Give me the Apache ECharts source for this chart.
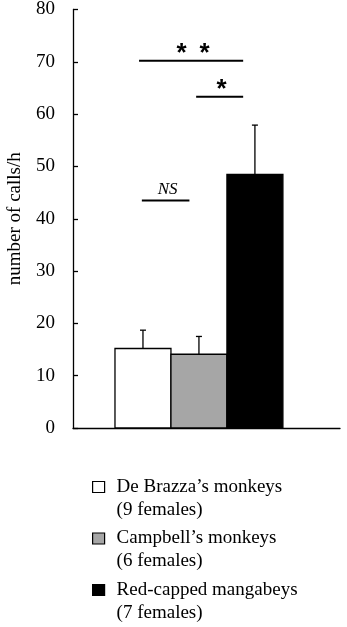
<!DOCTYPE html>
<html>
<head>
<meta charset="utf-8">
<script src="https://cdn.jsdelivr.net/npm/echarts@6/dist/echarts.min.js"></script>
<style>
  html, body { margin: 0; padding: 0; background: #fff; }
  #chart { width: 347px; height: 627px; }
</style>
</head>
<body>
<div id="chart"></div>
<script>
// groups, bar heights and upper error (SE)
const species = ["De Brazza\u2019s monkeys", "Campbell\u2019s monkeys", "Red-capped mangabeys"];
const females = [9, 6, 7];
const positions = [1, 2, 3];
const means = [15.2, 14.1, 48.5];
const errors = [3.5, 3.4, 9.4];
const barColors = ["#ffffff", "#a6a6a6", "#000000"];

// y axis ticks
const yMin = 0;
const yMax = 80;
const yStep = 10;

// significance brackets: start, end, level, label
const sigStart = [0.93, 1.95, 0.98];
const sigEnd = [2.79, 2.79, 1.83];
const sigLevel = [70.2, 63.3, 43.5];
const sigLabel = ["*\u2002*", "*", "NS"];

const chart = echarts.init(document.getElementById("chart"));

function renderBar(params, api) {
  const x = api.value(0);
  const v = api.value(1);
  const e = api.value(2);
  const p0 = api.coord([x - 0.5, v]);
  const p1 = api.coord([x + 0.5, 0]);
  const top = api.coord([x, v + e]);
  const cx = (p0[0] + p1[0]) / 2;
  return {
    type: "group",
    children: [
      {
        type: "rect",
        shape: { x: p0[0], y: p0[1], width: p1[0] - p0[0], height: p1[1] - p0[1] },
        style: { fill: api.visual("color"), stroke: "#000", lineWidth: 1.3 }
      },
      {
        type: "line",
        shape: { x1: cx, y1: p0[1], x2: cx, y2: top[1] },
        style: { stroke: "#000", lineWidth: 1.3 }
      },
      {
        type: "line",
        shape: { x1: cx - 3, y1: top[1], x2: cx + 3, y2: top[1] },
        style: { stroke: "#000", lineWidth: 1.3 }
      }
    ]
  };
}

function renderSig(params, api) {
  const i = params.dataIndex;
  const a = api.coord([api.value(0), api.value(2)]);
  const b = api.coord([api.value(1), api.value(2)]);
  const isNS = sigLabel[i] === "NS";
  return {
    type: "group",
    children: [
      {
        type: "line",
        shape: { x1: a[0], y1: a[1], x2: b[0], y2: b[1] },
        style: { stroke: "#000", lineWidth: 2 }
      },
      {
        type: "text",
        style: {
          x: (a[0] + b[0]) / 2 + 2,
          y: isNS ? a[1] - 2 : a[1] - 7,
          text: sigLabel[i],
          align: "center",
          verticalAlign: isNS ? "bottom" : "middle",
          fill: "#000",
          font: isNS ? "italic 17px 'Liberation Serif'" : "bold 26px 'Liberation Sans'"
        }
      }
    ]
  };
}

const barSeries = species.map((name, i) => ({
  name: name,
  type: "custom",
  renderItem: renderBar,
  itemStyle: { color: barColors[i] },
  data: [[positions[i], means[i], errors[i]]],
  encode: { x: 0, y: 1 },
  z: 2
}));

const option = {
  backgroundColor: "#fff",
  animation: false,
  grid: { left: 73, right: 7, top: 9.5, bottom: 199, outerBoundsMode: "none", containLabel: false },
  xAxis: {
    type: "value",
    min: -0.25,
    max: 4.52,
    axisLine: { show: true, onZero: false, lineStyle: { color: "#000", width: 1.3 } },
    axisTick: { show: false },
    axisLabel: { show: false },
    splitLine: { show: false }
  },
  yAxis: {
    type: "value",
    min: yMin,
    max: yMax,
    interval: yStep,
    name: "number of calls/h",
    nameLocation: "middle",
    nameGap: 48,
    nameTextStyle: { fontFamily: "Liberation Serif", fontSize: 19, color: "#000" },
    axisLine: { show: true, onZero: false, lineStyle: { color: "#000", width: 1.3 } },
    axisTick: { show: true, inside: true, length: 5, lineStyle: { color: "#000", width: 1.3 } },
    axisLabel: { fontFamily: "Liberation Serif", fontSize: 19, color: "#000", margin: 18 },
    splitLine: { show: false }
  },
  legend: {
    orient: "vertical",
    left: 92,
    top: 452.5,
    padding: 0,
    itemGap: -17.5,
    itemWidth: 12,
    itemHeight: 11,
    icon: "rect",
    selectedMode: false,
    data: species.map((name, i) => ({
      name: name,
      itemStyle: { color: barColors[i], borderColor: "#000", borderWidth: 1.2 }
    })),
    // blank first line keeps the species name level with the swatch
    formatter: (name) => "\n" + name + "\n(" + females[species.indexOf(name)] + " females)",
    textStyle: {
      fontFamily: "Liberation Serif",
      fontSize: 19,
      lineHeight: 23,
      color: "#000",
      padding: [0, 0, 0, 7]
    }
  },
  series: barSeries.concat([
    {
      name: "significance",
      type: "custom",
      renderItem: renderSig,
      data: sigStart.map((s, i) => [s, sigEnd[i], sigLevel[i]]),
      encode: { x: [0, 1], y: 2 },
      z: 3
    }
  ])
};

chart.setOption(option);
</script>
</body>
</html>
